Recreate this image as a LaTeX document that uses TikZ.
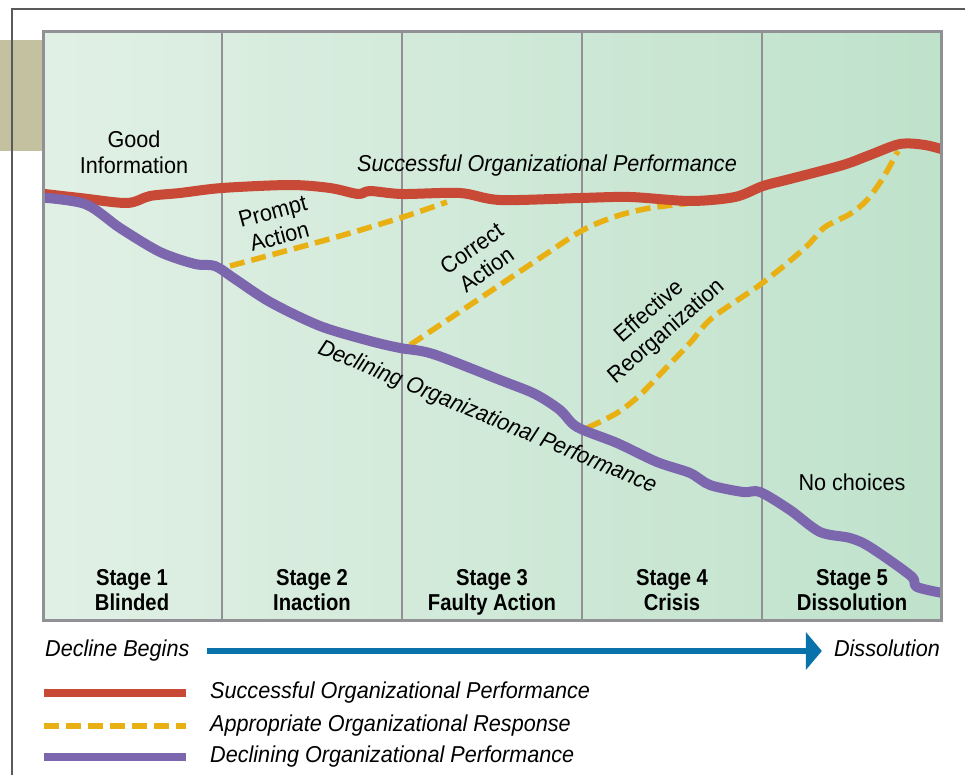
\documentclass[tikz,border=0pt]{standalone}
\usepackage{fontspec}
\setmainfont{Liberation Sans}[FakeStretch=0.94]
\newfontfamily\stgfont{Liberation Sans}[FakeStretch=0.88]
\usepackage{xcolor}
\usetikzlibrary{arrows.meta, positioning}
\definecolor{succred}{HTML}{C84A36}
\definecolor{respyel}{HTML}{E8B012}
\definecolor{declpur}{HTML}{7C66AE}
\definecolor{flowblue}{HTML}{0A72AA}
\definecolor{bgleft}{HTML}{E1F0E5}
\definecolor{bgright}{HTML}{BFE2CB}
\definecolor{divgray}{HTML}{909095}
\definecolor{khaki}{HTML}{C4C1A0}
\definecolor{framegray}{HTML}{5A5A5A}
\tikzset{
  succ/.style  = {draw=succred, line width=10pt, line cap=round, line join=round},
  resp/.style  = {draw=respyel, line width=5.5pt, dash pattern=on 15pt off 7pt},
  decl/.style  = {draw=declpur, line width=10pt, line cap=round, line join=round},
  lbl/.style   = {font=\fontsize{23}{26}\selectfont, align=center, inner sep=0pt},
  ital/.style  = {font=\fontsize{23}{26}\selectfont\itshape, inner sep=0pt,
                  text height=16pt, text depth=5pt},
  stg/.style   = {font=\stgfont\fontsize{23}{25}\selectfont\bfseries, align=center,
                  inner sep=0pt, text depth=5pt},
  sep/.style   = {draw=divgray, line width=2pt},
  fl/.style    = {-{Triangle[length=16pt, width=37pt]}, draw=flowblue, line width=6pt},
}
\begin{document}
\begin{tikzpicture}[x=1pt, y=-1pt]
  \useasboundingbox (0,0) rectangle (965,775);
  % frame
  \fill[khaki] (0,40) rectangle (42,151);
  \draw[framegray, line width=1.2pt] (12,775) -- (12,9) -- (965,9);
  % chart area
  \shade[left color=bgleft, right color=bgright] (43,32) rectangle (941,620);
  \draw[sep] (222,32) -- (222,620);
  \draw[sep] (402,32) -- (402,620);
  \draw[sep] (582,32) -- (582,620);
  \draw[sep] (762,32) -- (762,620);
  \begin{scope}
    \clip (43,32) rectangle (941,620);
    % responses
    \draw[resp] plot[smooth, tension=0.5] coordinates {(230,266) (333,238) (400,218) (447,202)};
    \draw[resp] plot[smooth, tension=0.5] coordinates {(410,345) (470,305) (540,258) (583,230)
      (617,216) (650,208) (692,203)};
    \draw[resp] plot[smooth, tension=0.5] coordinates {(587,428) (617,413) (640,395) (667,367)
      (690,343) (712,318) (757,287) (785,265) (808,245) (825,227) (850,214) (867,200)
      (883,178) (898,151)};
    % performance
    \draw[succ] plot[smooth, tension=0.5] coordinates {(36,193) (80,198) (127,203) (150,196)
      (180,193) (222,188) (290,185) (330,188) (358,194) (370,191) (402,194) (460,193)
      (500,200) (580,198) (630,197) (690,201) (735,197) (763,186) (790,179) (843,165)
      (870,155) (900,144) (925,145) (948,151)};
    \draw[decl] plot[smooth, tension=0.5] coordinates {(36,197) (85,204) (120,228) (160,252)
      (195,264) (215,266) (235,279) (270,302) (320,326) (370,341) (400,348) (433,354)
      (500,380) (535,394) (560,410) (577,427) (617,443) (657,462) (690,473) (710,485)
      (743,492) (760,492) (790,510) (820,532) (850,538) (870,547) (911,576) (917,587)
      (948,594)};
  \end{scope}
  \draw[divgray, line width=3pt] (43,32) rectangle (941,620);
  % labels
  \node[lbl] (good) at (134,152) {Good\\Information};
  \node[ital] (succlbl) at (547,166) {Successful Organizational Performance};
  \node[ital, rotate=-22.6] (decllbl) at (487,418) {Declining Organizational Performance};
  \node[lbl, rotate=15] (prompt) at (276,224) {Prompt\\Action};
  \node[lbl, rotate=35] (correct) at (479,259) {Correct\\Action};
  \node[lbl, rotate=41] (reorg) at (658,322) {Effective\\Reorganization};
  \node[lbl] (nochoice) at (852,482) {No choices};
  % stages
  \node[stg] (st1) at (132,592) {Stage 1\\Blinded};
  \node[stg] (st2) at (312,592) {Stage 2\\Inaction};
  \node[stg] (st3) at (492,592) {Stage 3\\Faulty Action};
  \node[stg] (st4) at (672,592) {Stage 4\\Crisis};
  \node[stg] (st5) at (852,592) {Stage 5\\Dissolution};
  % time line
  \node[ital, anchor=west] (begins) at (45,651) {Decline Begins};
  \node[ital, anchor=east] (dissol) at (940,651) {Dissolution};
  \draw[fl, shorten <=17pt, shorten >=12pt] (begins.east) -- (dissol.west);
  % legend
  \coordinate (l1a) at (44,693); \coordinate (l1b) at (186,693);
  \coordinate (l2a) at (44,726); \coordinate (l2b) at (186,726);
  \coordinate (l3a) at (44,757); \coordinate (l3b) at (186,757);
  \draw[draw=succred, line width=8pt] (l1a) -- (l1b);
  \draw[resp] (l2a) -- (l2b);
  \draw[draw=declpur, line width=8pt] (l3a) -- (l3b);
  \node[ital, right=24pt of l1b] (leg1) {Successful Organizational Performance};
  \node[ital, right=24pt of l2b] (leg2) {Appropriate Organizational Response};
  \node[ital, right=24pt of l3b] (leg3) {Declining Organizational Performance};
\end{tikzpicture}
\end{document}
